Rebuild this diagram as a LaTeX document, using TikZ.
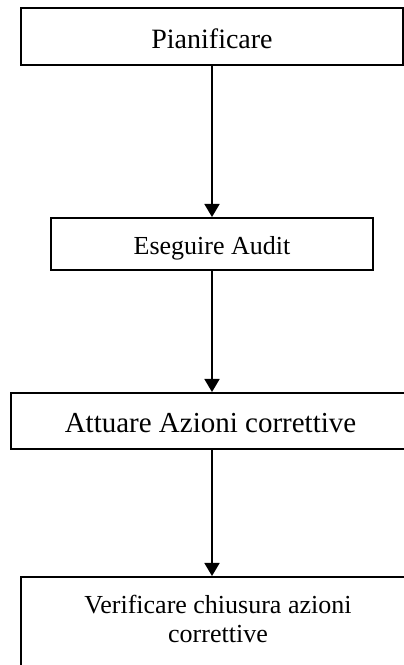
\documentclass[tikz,border=0pt]{standalone}
\usepackage{fontspec}
\setmainfont{Liberation Serif}
\usetikzlibrary{arrows.meta}
\begin{document}
\begin{tikzpicture}[x=1pt,y=1pt,
  stepbox/.style={draw, line width=1.8pt, anchor=north, inner xsep=0pt, inner ysep=0pt, align=center},
  arr/.style={line width=1.8pt, -{Triangle[width=15pt,length=13pt]}}]
\useasboundingbox (0,0) rectangle (404,665);
\clip (0,0) rectangle (404,665);
\fill[white] (0,0) rectangle (404,665);
\node[stepbox, minimum width=382pt, text height=40.7pt, text depth=16.3pt,
  font=\fontsize{28}{31}\selectfont] (b1) at (212,658) {Pianificare};
\node[stepbox, minimum width=322pt, text height=36.5pt, text depth=15.5pt,
  font=\fontsize{26}{29}\selectfont] (b2) at (212,448) {Eseguire Audit};
\node[stepbox, minimum width=399pt, text height=40pt, text depth=16pt,
  font=\fontsize{29}{32}\selectfont] (b3) at (210.5,273) {Attuare Azioni correttive};
\node[stepbox, minimum width=394pt, text height=65.7pt, text depth=50pt,
  font=\fontsize{26}{29}\selectfont] (b4) at (218,89) {Verificare chiusura azioni\\correttive};
\coordinate (ax) at (212,0);
\draw[arr] (b1.south -| ax) -- (b2.north -| ax);
\draw[arr] (b2.south -| ax) -- (b3.north -| ax);
\draw[arr] (b3.south -| ax) -- (b4.north -| ax);
\end{tikzpicture}
\end{document}
